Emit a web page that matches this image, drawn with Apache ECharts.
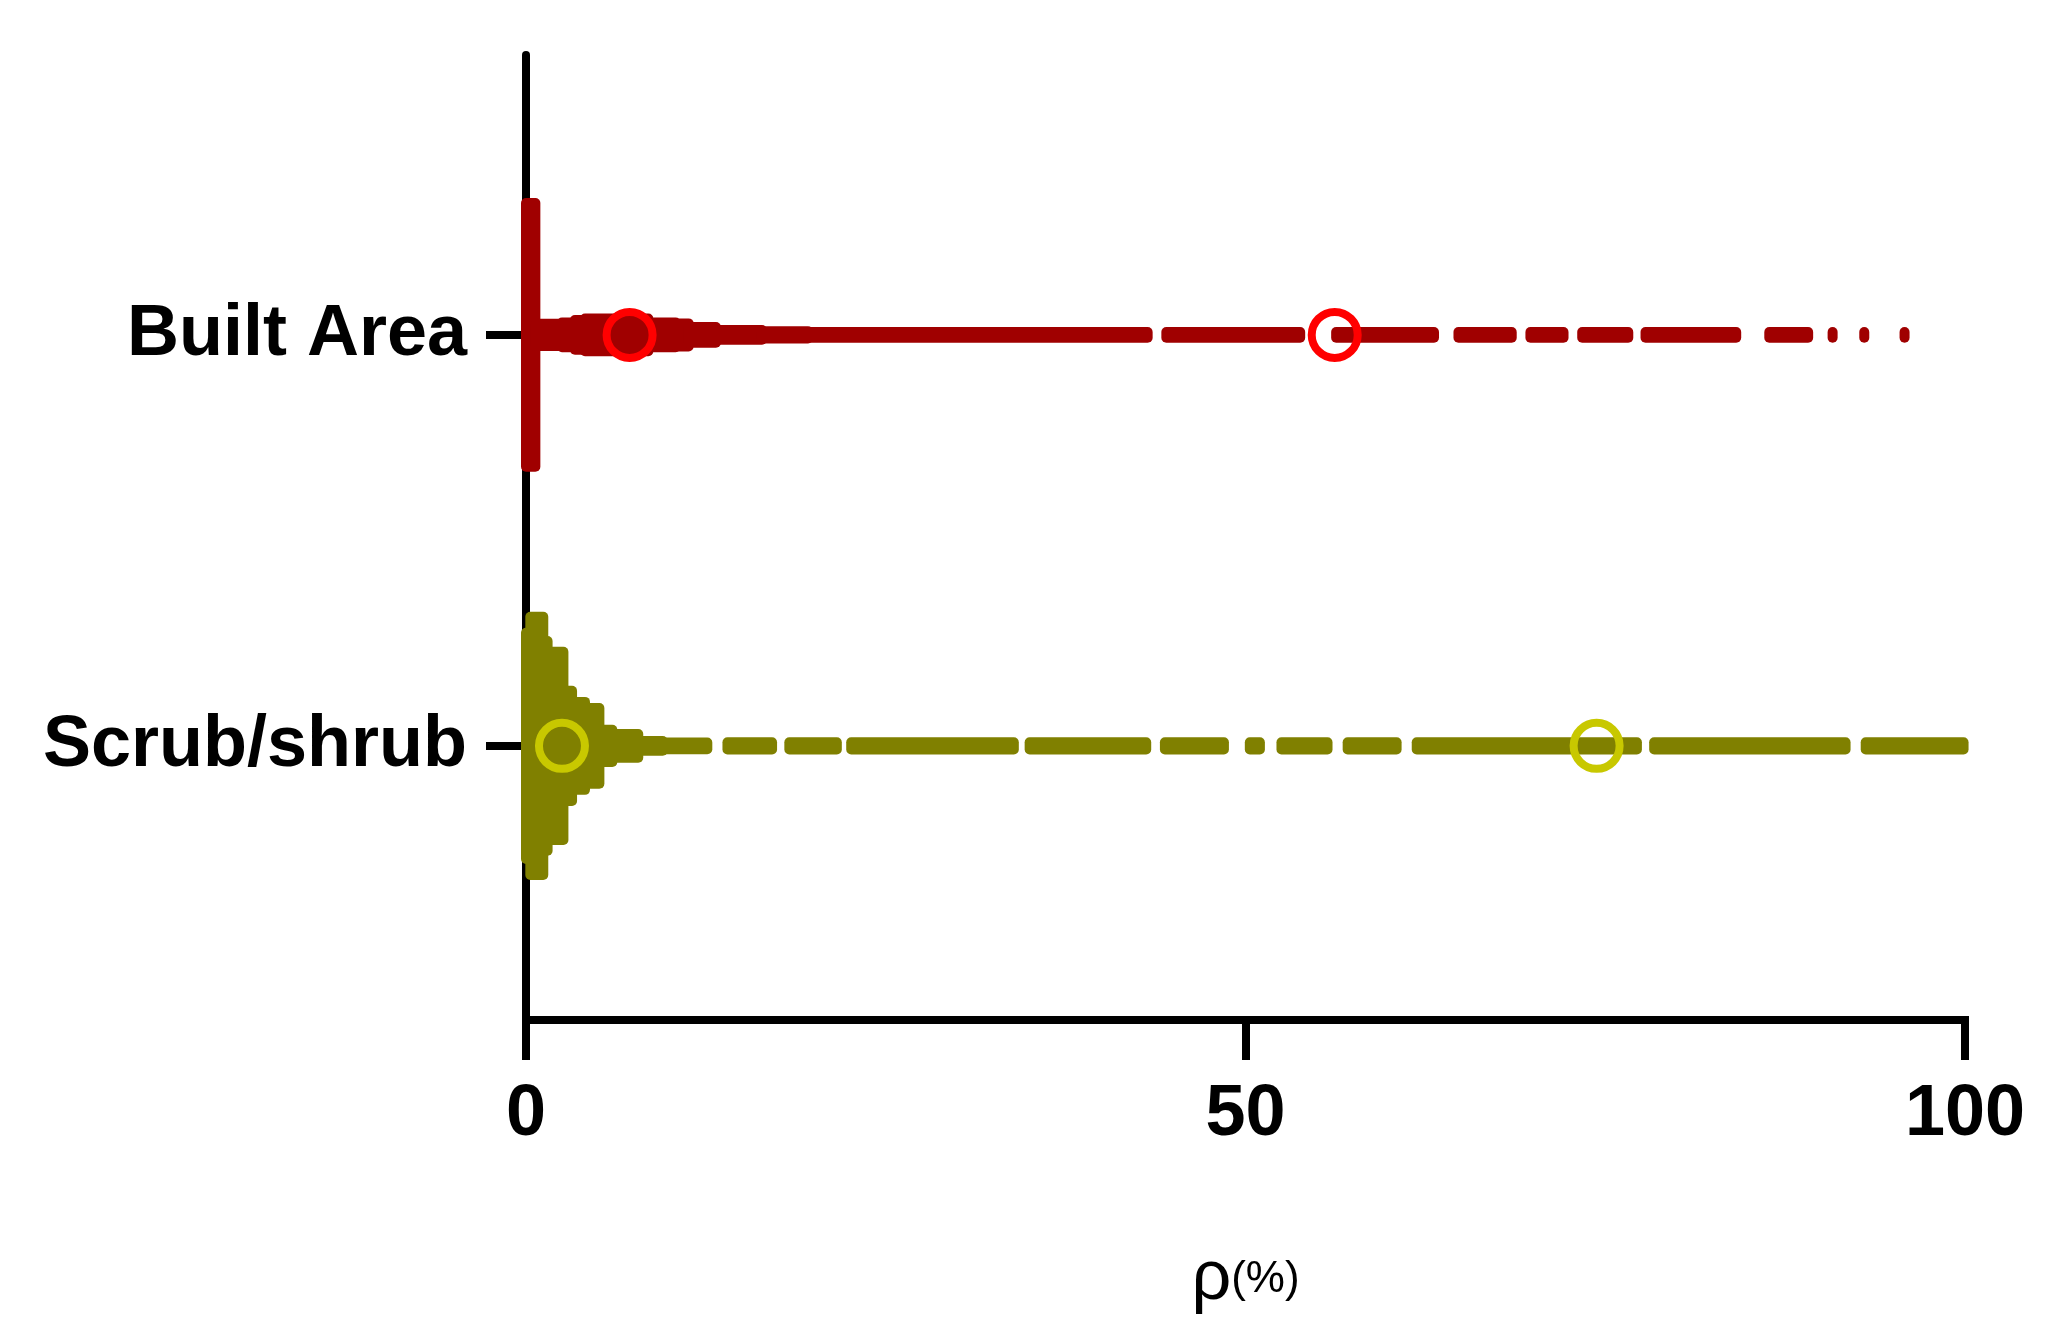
<!DOCTYPE html>
<html>
<head>
<meta charset="utf-8">
<script src="https://cdn.jsdelivr.net/npm/echarts@6.0.0/dist/echarts.min.js"></script>
<style>
  html, body { margin: 0; padding: 0; background: #fff; }
  #graph { width: 2056px; height: 1342px; }
</style>
</head>
<body>
<div id="graph"></div>
<script>
// categories, top to bottom (y value = index)
const categories = ['Built Area', 'Scrub/shrub'];
const xTicks = [0, 50, 100];

// swarm, as runs of dots:
// [from ρ %, to ρ %, half spread in category units]
const builtRuns = [
  [0.0, 0.65, 0.321],
  [0.65, 2.5, 0.027],
  [2.5, 3.4, 0.030],
  [3.4, 4.1, 0.036],
  [4.1, 8.5, 0.040],
  [8.5, 10.4, 0.030],
  [10.4, 11.3, 0.028],
  [11.3, 13.2, 0.019],
  [13.2, 16.4, 0.012],
  [16.4, 19.6, 0.009],
  [19.6, 43.2, 0.007],
  [44.5, 53.8, 0.007],
  [56.3, 63.1, 0.007],
  [64.8, 68.5, 0.007],
  [69.8, 72.1, 0.007],
  [73.4, 76.6, 0.007],
  [77.8, 84.1, 0.007],
  [86.4, 89.1, 0.007],
  [90.8, 90.8, 0.007],
  [93.0, 93.0, 0.007],
  [95.8, 95.8, 0.007]
];
const scrubRuns = [
  [0.0, 0.0, 0.275],
  [0.3, 1.2, 0.314],
  [1.2, 1.5, 0.255],
  [1.5, 2.6, 0.229],
  [2.6, 3.2, 0.134],
  [3.2, 4.1, 0.107],
  [4.1, 5.1, 0.092],
  [5.1, 6.0, 0.039],
  [6.0, 7.8, 0.029],
  [7.8, 9.5, 0.012],
  [9.5, 12.6, 0.008],
  [14.0, 17.1, 0.009],
  [18.3, 21.6, 0.009],
  [22.6, 33.9, 0.009],
  [35.0, 43.1, 0.009],
  [44.4, 48.5, 0.009],
  [50.3, 51.0, 0.009],
  [52.5, 55.7, 0.009],
  [57.1, 60.5, 0.009],
  [61.9, 77.2, 0.009],
  [78.4, 91.7, 0.009],
  [93.1, 99.9, 0.009]
];

// hollow circle markers on each swarm (ρ %)
const builtMarks = [7.2, 56.2];
const scrubMarks = [2.5, 74.4];

const builtColor = '#a00000';
const scrubColor = '#808000';
const DOT = 5; // dot radius in px

function runData(runs, cat) {
  return runs.map(r => [r[0], r[1], r[2], cat]);
}

function renderRun(params, api) {
  const x0 = api.value(0), x1 = api.value(1), h = api.value(2), cy = api.value(3);
  const a = api.coord([x0, cy - h]);
  const b = api.coord([x1, cy + h]);
  const top = Math.min(a[1], b[1]);
  return {
    type: 'rect',
    shape: {
      x: a[0] - DOT,
      y: top - DOT,
      width: b[0] - a[0] + DOT * 2,
      height: Math.abs(b[1] - a[1]) + DOT * 2,
      r: DOT
    },
    style: {fill: api.visual('color')}
  };
}

const chart = echarts.init(document.getElementById('graph'));
chart.setOption({
  backgroundColor: '#fff',
  animation: false,
  grid: {left: 526, right: 91, top: 55, bottom: 322, outerBoundsMode: 'none'},
  xAxis: {
    type: 'value',
    min: xTicks[0],
    max: xTicks[xTicks.length - 1],
    interval: 50,
    splitLine: {show: false},
    axisLine: {onZero: false, lineStyle: {color: '#000', width: 8, cap: 'square'}},
    axisTick: {length: 40, lineStyle: {color: '#000', width: 8}},
    axisLabel: {
      margin: 59,
      color: '#000',
      fontSize: 72,
      fontWeight: 'bold',
      fontFamily: 'Liberation Sans'
    },
    name: '{a|ρ}{b|(%)}',
    nameLocation: 'middle',
    nameGap: 225,
    nameTextStyle: {
      rich: {
        a: {fontSize: 70, fontFamily: 'Liberation Sans', color: '#000'},
        b: {fontSize: 44, fontFamily: 'Liberation Sans', color: '#000'}
      }
    }
  },
  yAxis: {
    type: 'value',
    inverse: true,
    min: -0.681,
    max: 1.667,
    splitLine: {show: false},
    axisLine: {show: true, onZero: false, lineStyle: {color: '#000', width: 8}},
    axisTick: {show: true, length: 40, customValues: [0, 1], lineStyle: {color: '#000', width: 8}},
    axisLabel: {
      customValues: [0, 1],
      formatter: v => categories[v],
      margin: 59,
      color: '#000',
      fontSize: 72,
      fontWeight: 'bold',
      fontFamily: 'Liberation Sans'
    }
  },
  series: [
    {
      type: 'custom',
      name: categories[0],
      renderItem: renderRun,
      clip: false,
      itemStyle: {color: builtColor},
      encode: {x: [0, 1], y: 3},
      data: runData(builtRuns, 0)
    },
    {
      type: 'custom',
      name: categories[1],
      renderItem: renderRun,
      clip: false,
      itemStyle: {color: scrubColor},
      encode: {x: [0, 1], y: 3},
      data: runData(scrubRuns, 1)
    },
    {
      type: 'scatter',
      z: 5,
      symbol: 'circle',
      symbolSize: 46,
      itemStyle: {color: 'transparent', borderColor: '#ff0000', borderWidth: 8, opacity: 1},
      data: builtMarks.map(v => [v, 0])
    },
    {
      type: 'scatter',
      z: 5,
      symbol: 'circle',
      symbolSize: 46,
      itemStyle: {color: 'transparent', borderColor: '#c8c800', borderWidth: 8, opacity: 1},
      data: scrubMarks.map(v => [v, 1])
    }
  ]
});
</script>
</body>
</html>
